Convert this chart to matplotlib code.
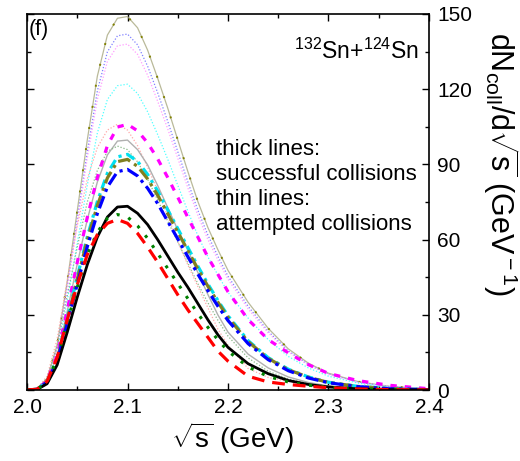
import matplotlib
matplotlib.use("Agg")
import matplotlib.pyplot as plt

plt.rcParams['font.family'] = ['Liberation Sans', 'DejaVu Sans']
plt.rcParams['mathtext.fontset'] = 'custom'
plt.rcParams['mathtext.rm'] = 'Liberation Sans'
plt.rcParams['mathtext.it'] = 'Liberation Sans:italic'

# sqrt(s) grid (GeV)
sqrt_s = [2.00, 2.01, 2.02, 2.03, 2.04, 2.05, 2.06, 2.07, 2.08, 2.09, 2.10,
          2.11, 2.12, 2.13, 2.14, 2.15, 2.16, 2.17, 2.18, 2.19, 2.20,
          2.22, 2.24, 2.26, 2.28, 2.30, 2.33, 2.36, 2.40]

# thick lines: successful collisions
black_thick = [0, 0.2, 2.5, 10, 23, 37, 50, 61, 69, 73, 73.3,
               70.5, 66, 60, 53.5, 47, 41, 34.5, 28, 22, 17,
               10.5, 6.5, 3.8, 2.2, 1.2, 0.45, 0.15, 0]
red_thick = [0, 0.3, 3.5, 13, 28, 42, 54, 62, 66.5, 68, 66.5,
             62.5, 57, 51, 44.5, 38, 32, 26.5, 21, 15.5, 11.5,
             5.5, 3.2, 2.2, 1.5, 0.9, 0.4, 0.15, 0]
green_thick = [0, 0.3, 3.3, 12.5, 27, 41, 54, 63, 68.5, 70, 69,
               65.5, 60.5, 54.5, 48.5, 42.5, 36.5, 30.5, 25, 20, 15.5,
               9.2, 5.4, 3.2, 1.9, 1.1, 0.45, 0.15, 0]
blue_thick = [0, 0.26, 3.1, 11.4, 26.4, 42.2, 57.2, 70.4, 81, 87.1, 88,
              85.4, 80.5, 74.4, 67.3, 60.3, 53.2, 46.2, 39.6, 33.4, 27.7,
              18.5, 12.1, 7.7, 4.8, 2.9, 1.3, 0.5, 0.1]
olive_thick = [0, 0.28, 3.2, 12, 27.6, 44.2, 59.8, 73.6, 84.6, 91.1, 92,
               89.2, 84.2, 77.7, 70.4, 63, 55.7, 48.3, 41.4, 35, 29,
               19.3, 12.6, 8.1, 5.1, 3, 1.4, 0.55, 0.1]
cyan_thick = [0, 0.29, 3.3, 12.3, 28.2, 45.1, 61.1, 75.2, 86.5, 93, 94,
              91.2, 86, 79.4, 71.9, 64.4, 56.9, 49.4, 42.3, 35.7, 29.6,
              19.7, 12.9, 8.3, 5.2, 3.1, 1.4, 0.6, 0.1]
magenta_thick = [0, 0.3, 3.7, 13.8, 31.8, 50.9, 68.9, 84.8, 97.5, 104.9, 106,
                 103.4, 98.6, 92.2, 84.8, 76.9, 68.9, 61, 53, 46.1, 39.2,
                 28.1, 20.1, 14.8, 10.1, 6.6, 3.7, 1.9, 0.5]

# thin lines: attempted collisions
gray_thin = [0, 0.3, 3.4, 13.6, 31.3, 50.3, 68, 83, 93.8, 99.3, 99.7,
             95.9, 89.8, 81.6, 72.8, 63.9, 55.8, 46.9, 38.1, 29.9, 23.1,
             14.3, 8.8, 5.2, 3, 1.6, 0.6, 0.2, 0]
salmon_thin = [0, 0.5, 5.5, 20.3, 43.7, 65.5, 84.2, 96.7, 103.7, 106, 103.7,
               97.5, 88.9, 79.6, 69.4, 59.3, 49.9, 41.3, 32.8, 24.2, 17.9,
               8.6, 5, 3.4, 2.3, 1.4, 0.6, 0.2, 0]
green_thin = [0, 0.4, 4.6, 17.4, 37.5, 57, 75, 87.6, 95.2, 97.3, 95.9,
              91, 84.1, 75.8, 67.4, 59.1, 50.7, 42.4, 34.8, 27.8, 21.5,
              12.8, 7.5, 4.4, 2.6, 1.5, 0.6, 0.2, 0]
cyan_thin = [0, 0.4, 3.7, 14.6, 35.4, 58.6, 81.7, 102.5, 115.9, 121.4, 122,
             118.3, 111, 101.9, 92.1, 81.7, 71.4, 61.6, 53.1, 45.8, 39,
             28.7, 20.1, 13.4, 8.8, 5.5, 2.7, 1.2, 0.2]
pink_thin = [0, 0.4, 4.1, 16.6, 40, 66.2, 92.5, 115.9, 131.1, 137.3, 138,
             133.9, 125.6, 115.2, 104.2, 92.5, 80.7, 69.7, 60, 51.8, 44.2,
             32.4, 22.8, 15.2, 9.9, 6.2, 3, 1.4, 0.3]
blue_thin = [0, 0.4, 4.3, 17, 41.2, 68.2, 95.1, 119.3, 134.9, 141.3, 142,
             137.7, 129.2, 118.6, 107.2, 95.1, 83.1, 71.7, 61.8, 53.3, 45.4,
             33.4, 23.4, 15.6, 10.2, 6.4, 3.1, 1.4, 0.3]
olive_thin = [0, 0.4, 4.5, 17.9, 43.2, 71.5, 99.8, 125.2, 141.6, 148.3, 149,
              144.5, 135.6, 124.4, 112.5, 99.8, 87.2, 75.2, 64.8, 55.9, 47.7,
              35, 24.6, 16.4, 10.7, 6.7, 3.3, 1.5, 0.3]

note_lines = ['thick lines:', 'successful collisions', 'thin lines:', 'attempted collisions']

fig = plt.figure(figsize=(5.2, 4.61), dpi=100)
ax = fig.add_axes([27/520, 71/461, 402/520, 376/461])

# thin lines first
ax.plot(sqrt_s, olive_thin, color='#a8a880', lw=0.9, ls='-', alpha=0.8)
ax.plot(sqrt_s, olive_thin, color='olive', lw=1.4, ls=(0, (1, 10)))
ax.plot(sqrt_s, blue_thin, color='#8080ff', lw=0.9, ls=(0, (1, 1.5)))
ax.plot(sqrt_s, pink_thin, color='#ff9cff', lw=0.9, ls=(0, (1, 1.5)))
ax.plot(sqrt_s, cyan_thin, color='#50ffff', lw=0.9, ls=(0, (1, 1.5)))
ax.plot(sqrt_s, salmon_thin, color='#ffa8a8', lw=0.9, ls=(0, (1, 1.5)))
ax.plot(sqrt_s, gray_thin, color='#b0b0b0', lw=1.0, ls='-')
ax.plot(sqrt_s, green_thin, color='#88b888', lw=0.9, ls=(0, (1, 1.5)))

# thick lines
ax.plot(sqrt_s, magenta_thick, color='#ff00ff', lw=2.3, ls=(0, (2, 2.5)))
ax.plot(sqrt_s, cyan_thick, color='#00e0f0', lw=2.3, ls=(0, (3, 1.5, 1, 1.5)))
ax.plot(sqrt_s, olive_thick, color='#808020', lw=2.3, ls=(0, (4, 1.5, 1, 1.5)))
ax.plot(sqrt_s, blue_thick, color='#0000ff', lw=2.3, ls=(0, (4, 1.5, 1, 1.5)))
ax.plot(sqrt_s, black_thick, color='black', lw=2.0, ls='-')
ax.plot(sqrt_s, green_thick, color='#008000', lw=2.2, ls=(0, (1, 3)))
ax.plot(sqrt_s, red_thick, color='#ff0000', lw=2.3, ls=(0, (4, 2.5)))

ax.set_xlim(2.0, 2.4)
ax.set_ylim(0, 150)
ax.set_xticks([2.0, 2.1, 2.2, 2.3, 2.4])
ax.set_xticklabels(['2.0', '2.1', '2.2', '2.3', '2.4'])
ax.set_xticks([2.05, 2.15, 2.25, 2.35], minor=True)
ax.set_yticks([0, 30, 60, 90, 120, 150])
ax.set_yticks([15, 45, 75, 105, 135], minor=True)
ax.yaxis.tick_right()
ax.tick_params(which='both', direction='in', top=True, bottom=True,
               left=True, right=True, labelsize=15, width=1.0)
ax.tick_params(axis='y', labelleft=False, labelright=True, pad=6)
ax.tick_params(axis='x', pad=6)
ax.tick_params(which='major', length=5)
ax.tick_params(which='minor', length=3)
for sp in ax.spines.values():
    sp.set_linewidth(1.2)

ax.text(0.003, 0.988, '(f)', transform=ax.transAxes, fontsize=15.5,
        ha='left', va='top')
ax.text(0.975, 0.935, r'$^{132}$Sn+$^{124}$Sn', transform=ax.transAxes,
        fontsize=16.5, ha='right', va='top')
for i, line in enumerate(note_lines):
    ax.text(2.188, 93.7 - 9.97 * i, line, fontsize=16, ha='left', va='baseline')

fig.text(232/520, 1 - 438/461, r'$\sqrt{\rm s}$ (GeV)', fontsize=20,
         ha='center', va='center')
fig.text(501/520, 1 - 164/461, r'dN$_{\rm coll}$/d$\sqrt{\rm s}$ (GeV$^{\rm -1}$)',
         fontsize=22, rotation=-90, ha='center', va='center')

fig.savefig('out.png', dpi=100)
